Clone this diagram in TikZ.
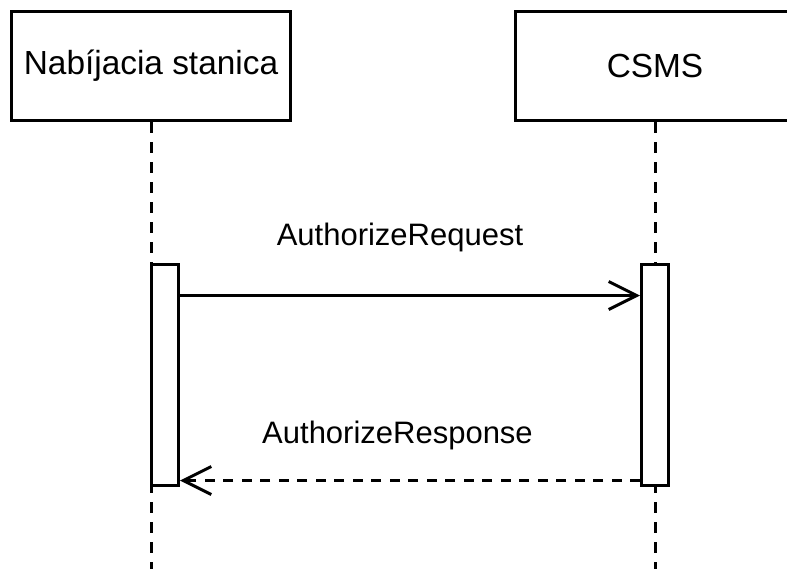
\documentclass[tikz,border=0pt]{standalone}
\usepackage{fontspec}
\setmainfont{Liberation Sans}
\usetikzlibrary{arrows.meta}

\tikzset{
  actor/.style={draw, line width=1.5pt, fill=white, inner sep=0pt,
    minimum width=139.5pt, minimum height=54.5pt,
    font=\fontsize{16.7}{20}\selectfont},
  bar/.style={draw, line width=1.5pt, fill=white, inner sep=0pt,
    minimum width=13.5pt, minimum height=110.5pt},
  lifeline/.style={line width=1.5pt, dash pattern=on 5.5pt off 4.5pt},
  msg/.style={line width=1.5pt, -{Straight Barb[length=14pt, width=14pt]}},
  label/.style={anchor=base, font=\fontsize{15.5}{18}\selectfont}
}

\begin{document}
\begin{tikzpicture}[x=0.5pt, y=-0.5pt]
   \useasboundingbox (0,0) rectangle (787,568);

   % participants
   \node (station) at (151,66) [actor] {Nabíjacia stanica};
   \node (csms) at (655,66) [actor] {CSMS};

   % lifelines
   \coordinate (stationend) at (151,572);
   \coordinate (csmsend) at (655,572);
   \draw [lifeline] (station.south) -- (stationend);
   \draw [lifeline] (csms.south) -- (csmsend);

   % activation bars
   \node (stationbar) at (165,375) [bar] {};
   \node (csmsbar) at (655,375) [bar] {};

   % messages
   \draw [msg] ([yshift=-16.25pt]stationbar.north east)
      -- ([yshift=-16.25pt]csmsbar.north west);
   \draw [msg, dash pattern=on 5pt off 4.25pt]
      ([yshift=3.25pt]csmsbar.south west)
      -- ([yshift=3.25pt]stationbar.south east);

   \node (reqlabel) at (400,245) [label] {AuthorizeRequest};
   \node (resplabel) at (397.5,443) [label] {AuthorizeResponse};
\end{tikzpicture}
\end{document}
